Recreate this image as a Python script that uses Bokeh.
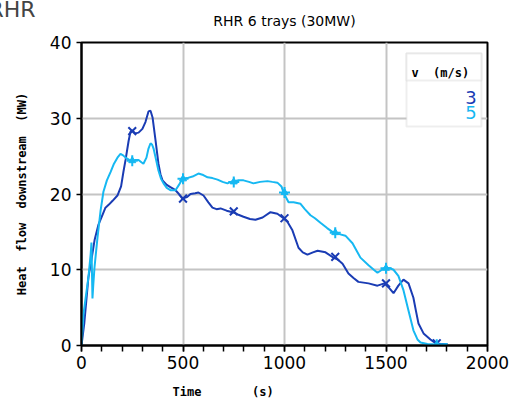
from bokeh.plotting import figure
from bokeh.models import Range1d, BoxAnnotation, Label, SingleIntervalTicker, Title
from bokeh.embed import file_html
from bokeh.resources import INLINE

# ---- data ----
t_v3 = [0, 14, 34, 50, 65, 84, 100, 118, 135, 153, 177, 195, 207, 217, 232, 241, 250, 265, 281, 300,
        315, 330, 340, 350, 365, 379, 389, 399, 420, 438, 463, 480, 497, 520, 537, 560, 576, 601, 625,
        645, 665, 685, 715, 744, 770, 798, 830, 857, 892, 931, 965, 995, 1015, 1039, 1069, 1090, 1113,
        1140, 1163, 1202, 1241, 1265, 1286, 1315, 1340, 1364, 1414, 1458, 1492, 1512, 1537, 1561, 1586,
        1611, 1635, 1648, 1660, 1685, 1719, 1744, 1770, 1803]
q_v3 = [0, 3, 9, 11.5, 14, 16, 17, 18.2, 18.6, 19.1, 19.8, 21, 23, 24.5, 27, 28.2, 28.4, 28.0, 28.1, 28.6,
        29.5, 30.9, 31.0, 30.1, 27, 24, 22.6, 21.8, 21.2, 20.9, 20.5, 20.0, 19.4, 19.6, 20.0, 20.1, 20.2,
        19.8, 18.9, 18.2, 18.0, 18.1, 17.8, 17.6, 17.3, 17.0, 16.7, 16.6, 16.9, 17.6, 17.4, 16.8, 16.3,
        15.2, 12.9, 12.3, 12.0, 12.3, 12.5, 12.3, 11.6, 11.3, 10.8, 9.5, 8.9, 8.4, 8.2, 7.9, 8.2, 7.7, 6.9,
        7.9, 8.7, 8.2, 6.3, 4.5, 2.9, 1.6, 0.8, 0.3, 0.2, 0.2]

t_v5 = [0, 10, 34, 45, 49, 52, 54, 58, 64, 79, 94, 108, 125, 143, 160, 177, 192, 205, 217, 235, 251, 265,
        281, 295, 305, 320, 330, 340, 348, 355, 365, 379, 392, 404, 420, 438, 463, 480, 497, 520, 547, 576,
        600, 621, 645, 670, 695, 719, 744, 770, 798, 825, 847, 880, 916, 940, 965, 985, 995, 1020, 1045,
        1079, 1100, 1128, 1150, 1177, 1210, 1241, 1270, 1300, 1335, 1374, 1414, 1440, 1458, 1480, 1497,
        1520, 1537, 1561, 1586, 1611, 1635, 1655, 1670, 1704, 1750, 1803]
q_v5 = [0, 4.2, 9, 12, 13.6, 9, 6.2, 8, 10.3, 14.3, 17.8, 20.3, 21.8, 22.9, 24.0, 24.8, 25.3, 25.1, 24.8,
        24.5, 24.3, 24.5, 24.5, 24.2, 24.0, 24.8, 26.0, 26.7, 26.5, 26.0, 24.8, 23.1, 22.0, 21.4, 20.8,
        20.5, 20.5, 21.2, 22.0, 22.1, 22.3, 22.7, 22.5, 22.2, 22.1, 21.9, 21.6, 21.4, 21.7, 21.8, 21.8,
        21.6, 21.4, 21.6, 21.7, 21.6, 21.5, 21.0, 20.2, 18.9, 18.9, 18.7, 18.0, 17.2, 16.8, 16.2, 15.5,
        14.9, 14.7, 14.5, 13.5, 11.6, 10.6, 10.0, 9.6, 10.0, 10.3, 10.2, 10.0, 9.2, 7.3, 4.6, 2.0, 0.8,
        0.4, 0.2, 0.1, 0.2]

t_mark = [250, 500, 750, 1000, 1250, 1500, 1750]
m_v3 = [28.3, 19.4, 17.7, 16.8, 11.7, 8.2, 0.3]
m_v5 = [24.4, 22.0, 21.6, 20.2, 14.9, 10.2, 0.1]

series_labels = ["3", "5"]
legend_title = "v (m/s)"

C3 = "#1a3cb4"
C5 = "#16b8f2"
FONT = "DejaVu Sans"
MONO = "DejaVu Sans Mono"
NB = "\u00a0"

# outer title: the corner "RHR" (partly cut at the top edge)
p = figure(width=514, height=405, output_backend="svg", toolbar_location=None,
           x_range=Range1d(0, 2000), y_range=Range1d(0, 40),
           min_border_left=81, min_border_right=27, min_border_top=42, min_border_bottom=60,
           title="RHR")
p.title.align = "left"
p.title.offset = -93
p.title.standoff = -43
p.title.text_font = FONT
p.title.text_font_size = "22px"
p.title.text_font_style = "normal"

# inner title: the chart title
main_title = Title(text="RHR 6 trays (30MW)", align="center", vertical_align="top",
                   standoff=24, text_font=FONT, text_font_size="14px",
                   text_font_style="normal", text_color="black")
p.add_layout(main_title, "above")

p.outline_line_color = "black"
p.outline_line_width = 2
p.background_fill_color = "white"
p.border_fill_color = "white"

for g in (p.xgrid, p.ygrid):
    g.grid_line_color = "#c4c4c4"
    g.grid_line_width = 2

p.xaxis.ticker = SingleIntervalTicker(interval=500, num_minor_ticks=5)
p.yaxis.ticker = SingleIntervalTicker(interval=10, num_minor_ticks=0)

for ax in (p.xaxis[0], p.yaxis[0]):
    ax.axis_line_color = "black"
    ax.axis_line_width = 2
    ax.major_tick_line_color = "black"
    ax.major_tick_line_width = 1.5
    ax.major_tick_in = 0
    ax.major_label_text_font = FONT
    ax.major_label_text_font_size = "17px"
    ax.major_label_text_color = "black"
    ax.axis_label_text_font = MONO
    ax.axis_label_text_font_size = "12px"
    ax.axis_label_text_font_style = "bold"
    ax.axis_label_text_color = "black"

p.xaxis.major_tick_out = 6
p.xaxis.minor_tick_out = 6
p.xaxis.minor_tick_in = 0
p.xaxis.minor_tick_line_color = "black"
p.xaxis.minor_tick_line_width = 1.5
p.xaxis.major_label_standoff = 4
p.xaxis.axis_label = "Time" + NB * 7 + "(s)" + NB * 17
p.xaxis.axis_label_standoff = 13

p.yaxis.major_tick_out = 5
p.yaxis.minor_tick_line_color = None
p.yaxis.major_label_standoff = 5
p.yaxis.axis_label = (NB * 2).join(["Heat", "flow", "downstream", "(MW)"])
p.yaxis.axis_label_standoff = 18

# lines
p.line(t_v3, q_v3, line_color=C3, line_width=2)
p.line(t_v5, q_v5, line_color=C5, line_width=2)

# markers
p.scatter(t_mark, m_v3, marker="x", size=11, line_color=C3, line_width=2)
p.scatter(t_mark, m_v5, marker="cross", size=11, line_color=C5, line_width=2)
p.scatter(t_mark, m_v5, marker="triangle", size=7, line_color=C5, fill_color=C5)

# legend (manual)
p.add_layout(BoxAnnotation(left=1601, right=1970, bottom=28.9, top=38.55,
                           fill_color="white", fill_alpha=1.0,
                           line_color="#c8c8c8", line_width=2))
p.add_layout(BoxAnnotation(left=1601, right=1970, bottom=35.0, top=38.55,
                           fill_color="white", fill_alpha=1.0,
                           line_color="#c8c8c8", line_width=2))
p.add_layout(Label(x=1625, y=36.0, text=legend_title.replace(" ", NB * 2),
                   text_font=MONO, text_font_style="bold",
                   text_font_size="12px", text_baseline="middle", text_color="black"))
p.scatter([1818], [32.7], marker="x", size=11, line_color=C3, line_width=2)
p.scatter([1818], [30.8], marker="cross", size=11, line_color=C5, line_width=2)
p.scatter([1818], [30.8], marker="triangle", size=7, line_color=C5, fill_color=C5)
p.add_layout(Label(x=1890, y=32.7, text=series_labels[0], text_font=FONT,
                   text_font_size="18px", text_baseline="middle", text_color=C3))
p.add_layout(Label(x=1890, y=30.8, text=series_labels[1], text_font=FONT,
                   text_font_size="18px", text_baseline="middle", text_color=C5))

open("out.html", "w").write(file_html(p, INLINE))
